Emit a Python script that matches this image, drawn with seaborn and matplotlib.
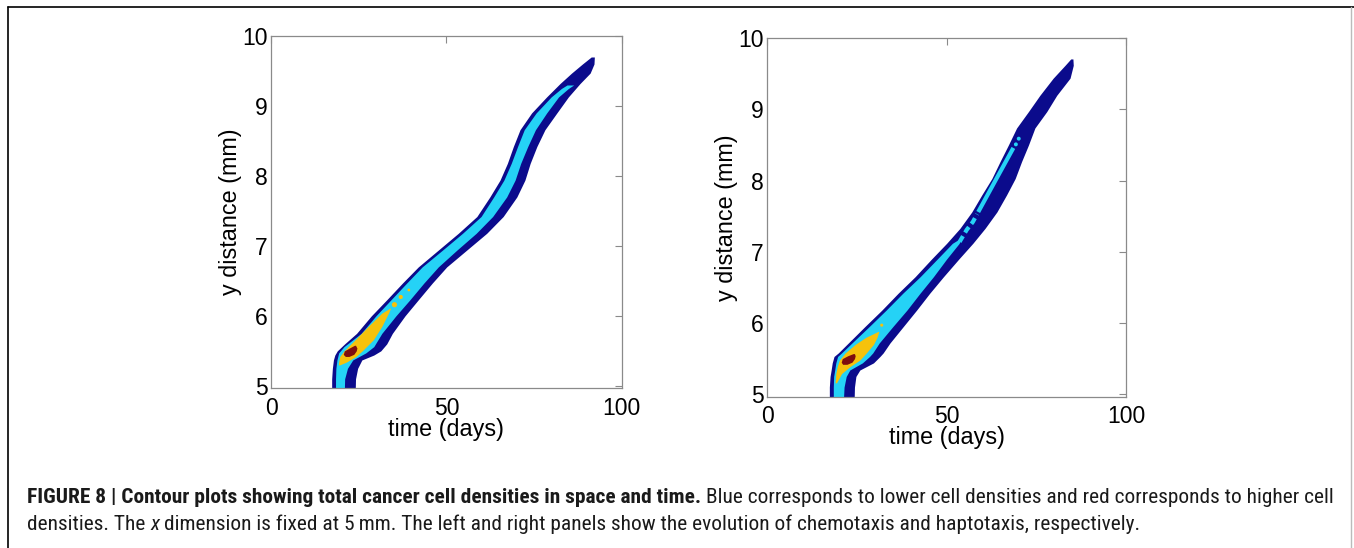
import os
import numpy as np
import matplotlib
matplotlib.use("Agg")
import matplotlib.pyplot as plt
import seaborn as sns
from matplotlib import font_manager
from matplotlib.font_manager import FontProperties
from matplotlib.lines import Line2D

# ---------------- data ----------------
# Left panel (chemotaxis) – outer, dark-blue contour (y in mm, edges in days)
L_dark_y     = [4.90, 5.10, 5.25, 5.37, 5.44, 5.50, 5.60, 5.75, 6.00, 6.23, 6.47, 6.70, 6.94, 7.18, 7.42, 7.70, 7.94, 8.18, 8.42, 8.66, 8.90, 9.13, 9.32, 9.47, 9.60, 9.70]
L_dark_left  = [17.3, 17.3, 17.5, 17.8, 18.2, 18.9, 21.0, 24.4, 28.6, 33.0, 37.5, 42.0, 47.7, 53.4, 58.7, 62.4, 65.3, 67.4, 69.1, 71.0, 74.3, 78.6, 82.4, 85.7, 88.8, 91.3]
L_dark_right = [24.0, 24.1, 24.7, 25.9, 29.3, 31.3, 33.0, 34.6, 38.2, 42.0, 46.0, 50.1, 55.8, 61.5, 66.2, 70.1, 72.4, 73.9, 75.8, 78.1, 81.5, 84.8, 88.1, 91.0, 92.1, 92.2]
# Left panel – cyan contour
L_cyan_y     = [4.90, 5.10, 5.25, 5.37, 5.47, 5.56, 5.75, 6.00, 6.23, 6.47, 6.70, 6.94, 7.18, 7.42, 7.70, 7.94, 8.18, 8.42, 8.66, 8.90, 9.13, 9.25, 9.30]
L_cyan_left  = [18.4, 18.4, 18.5, 18.8, 19.3, 20.8, 25.7, 29.9, 34.2, 38.7, 43.1, 48.9, 54.6, 59.9, 63.5, 66.4, 68.5, 70.3, 72.2, 75.6, 79.9, 82.8, 84.4]
L_cyan_right = [20.9, 21.0, 21.8, 23.3, 27.0, 29.3, 31.6, 35.6, 39.6, 43.6, 47.7, 53.0, 58.5, 63.2, 67.2, 69.6, 71.2, 73.2, 75.4, 78.6, 82.0, 84.8, 86.3]
# Left panel – yellow contour
L_yel_y      = [5.30, 5.34, 5.42, 5.50, 5.66, 5.85, 6.04, 6.11]
L_yel_left   = [19.2, 19.3, 19.6, 20.8, 24.0, 27.7, 31.6, 33.9]
L_yel_right  = [19.6, 21.5, 24.2, 26.0, 29.2, 31.6, 33.5, 34.1]
L_yel_dot_t  = [35.2, 37.0, 39.3]
L_yel_dot_y  = [6.16, 6.27, 6.37]
L_yel_dot_s  = [14, 9, 4]
# Left panel – dark-red contour
L_red_y      = [5.42, 5.45, 5.50, 5.54, 5.58]
L_red_left   = [21.2, 20.6, 20.9, 22.3, 23.8]
L_red_right  = [22.2, 23.6, 24.3, 24.5, 24.1]

# Right panel (haptotaxis) – outer, dark-blue contour
R_dark_y     = [4.90, 5.10, 5.25, 5.34, 5.44, 5.53, 5.58, 5.72, 5.95, 6.18, 6.42, 6.65, 6.90, 7.12, 7.33, 7.56, 7.80, 8.03, 8.27, 8.50, 8.74, 8.97, 9.20, 9.44, 9.62, 9.71]
R_dark_left  = [17.3, 17.3, 17.5, 17.8, 18.1, 18.6, 19.8, 22.6, 27.2, 31.9, 36.5, 41.2, 45.8, 50.0, 53.7, 57.0, 59.8, 62.6, 64.9, 67.2, 69.5, 72.8, 76.0, 79.7, 83.0, 84.6]
R_dark_right = [24.2, 24.3, 24.7, 25.8, 29.6, 31.4, 32.3, 34.2, 37.9, 41.6, 45.3, 49.1, 53.4, 57.3, 60.7, 64.0, 66.7, 69.1, 70.9, 72.8, 74.6, 77.9, 80.7, 84.4, 85.3, 85.2]
# Right panel – cyan contour (main part, dashed pieces, thin strip, dots)
R_cyan_y     = [4.90, 5.10, 5.25, 5.34, 5.44, 5.53, 5.58, 5.72, 5.95, 6.18, 6.42, 6.65, 6.90, 7.12, 7.17]
R_cyan_left  = [18.4, 18.4, 18.5, 18.8, 19.1, 19.6, 20.7, 23.6, 28.4, 33.1, 37.8, 42.6, 47.4, 51.6, 53.2]
R_cyan_right = [21.2, 21.4, 22.0, 23.0, 26.5, 28.5, 29.4, 31.2, 35.0, 38.9, 42.6, 46.3, 50.0, 53.5, 53.8]
R_cyan_dash_t  = [53.6, 55.6, 57.3, 58.5]
R_cyan_dash_y  = [7.14, 7.31, 7.42, 7.53]
R_cyan_strip_t = [58.8, 63.9, 68.6]
R_cyan_strip_y = [7.56, 8.03, 8.46]
R_cyan_dot_t   = [69.3, 70.1]
R_cyan_dot_y   = [8.51, 8.59]
# Right panel – yellow contour
R_yel_y      = [5.16, 5.29, 5.39, 5.48, 5.58, 5.70, 5.80, 5.88]
R_yel_left   = [18.9, 19.1, 19.5, 20.1, 21.7, 24.5, 27.5, 30.8]
R_yel_right  = [19.3, 20.7, 23.1, 25.8, 27.6, 29.6, 30.6, 31.1]
R_yel_dot_t  = [31.9]
R_yel_dot_y  = [5.97]
# Right panel – dark-red contour
R_red_y      = [5.42, 5.45, 5.50, 5.54, 5.57]
R_red_left   = [21.0, 20.6, 20.9, 22.4, 23.9]
R_red_right  = [22.2, 23.6, 24.3, 24.5, 24.3]

x_ticks = [0, 50, 100]
y_ticks = [5, 6, 7, 8, 9, 10]
x_label = "time (days)"
y_label = "y distance (mm)"

caption_bold = "FIGURE 8 | Contour plots showing total cancer cell densities in space and time."
caption_rest1 = "Blue corresponds to lower cell densities and red corresponds to higher cell"
caption_l2a = "densities. The"
caption_l2x = "x"
caption_l2b = "dimension is fixed at 5\u2009mm. The left and right panels show the evolution of chemotaxis and haptotaxis, respectively."

NAVY = "#0B0B8C"
CYAN = "#25D2F6"
YELLOW = "#F6C20C"
DRED = "#7E0E0E"
SPINE = "#8a8a8a"

# ---------------- figure ----------------
sns.set_theme(style="white")
plt.rcParams['font.family'] = ['Liberation Sans', 'DejaVu Sans']
plt.rcParams['axes.edgecolor'] = SPINE

W, H = 1354, 548
fig = plt.figure(figsize=(W / 100, H / 100), dpi=100)
fig.patch.set_facecolor("white")


def px_axes(x0, x1, y0, y1):
    return fig.add_axes([x0 / W, 1 - y1 / H, (x1 - x0) / W, (y1 - y0) / H])


def style_axes(ax, ybottom):
    ax.set_xlim(0, 100)
    ax.set_ylim(ybottom, 10)
    ax.set_xticks(x_ticks)
    ax.set_yticks(y_ticks)
    ax.tick_params(direction="in", length=5, width=0.8, color=SPINE,
                   top=True, right=True, labelsize=16.5, labelcolor="black")
    ax.tick_params(axis="x", pad=6)
    ax.tick_params(axis="y", pad=2.5)
    for s in ax.spines.values():
        s.set_color(SPINE)
        s.set_linewidth(0.9)
    ax.set_xlabel(x_label, fontsize=16.8, labelpad=-1.5, color="black")
    ax.set_ylabel(y_label, fontsize=16.8, labelpad=0, color="black")
    ax.set_facecolor("white")


# Left panel
axL = px_axes(271, 621.7, 36, 388.3)
axL.fill_betweenx(L_dark_y, L_dark_left, L_dark_right, color=NAVY, lw=0)
axL.fill_betweenx(L_cyan_y, L_cyan_left, L_cyan_right, color=CYAN, lw=0)
axL.fill_betweenx(L_yel_y, L_yel_left, L_yel_right, color=YELLOW, lw=0)
sns.scatterplot(x=L_yel_dot_t, y=L_yel_dot_y, s=L_yel_dot_s, color=YELLOW,
                edgecolor="none", ax=axL, legend=False)
axL.fill_betweenx(L_red_y, L_red_left, L_red_right, color=DRED, lw=0)
style_axes(axL, 4.965)

# Right panel
axR = px_axes(767.3, 1126, 38.3, 396.7)
axR.fill_betweenx(R_dark_y, R_dark_left, R_dark_right, color=NAVY, lw=0)
axR.fill_betweenx(R_cyan_y, R_cyan_left, R_cyan_right, color=CYAN, lw=0)
sns.lineplot(x=R_cyan_dash_t, y=R_cyan_dash_y, color=CYAN, lw=3.0,
             linestyle=(0, (1.6, 1.0)), ax=axR, sort=False, legend=False)
sns.lineplot(x=R_cyan_strip_t, y=R_cyan_strip_y, color=CYAN, lw=3.0,
             solid_capstyle="butt", ax=axR, sort=False, legend=False)
sns.scatterplot(x=R_cyan_dot_t, y=R_cyan_dot_y, s=8, color=CYAN,
                edgecolor="none", ax=axR, legend=False)
axR.fill_betweenx(R_yel_y, R_yel_left, R_yel_right, color=YELLOW, lw=0)
sns.scatterplot(x=R_yel_dot_t, y=R_yel_dot_y, s=5, color=YELLOW,
                edgecolor="none", ax=axR, legend=False)
axR.fill_betweenx(R_red_y, R_red_left, R_red_right, color=DRED, lw=0)
style_axes(axR, 4.965)

# frame lines of the figure page
fig.add_artist(Line2D([8 / W, 1], [1 - 7 / H, 1 - 7 / H], color="black", lw=1.2))
fig.add_artist(Line2D([8 / W, 8 / W], [1 - 7 / H, 0], color="black", lw=1.2))
fig.add_artist(Line2D([1351 / W, 1351 / W], [1 - 7 / H, 0], color="#bbbbbb", lw=1.0))


# ---------------- caption (condensed face if one is installed) ----------------
def _w(f):
    w = f.weight
    if isinstance(w, str):
        w = font_manager.weight_dict.get(w, 400)
    return w


def find_condensed():
    groups = {}
    for f in font_manager.fontManager.ttflist:
        fn = os.path.basename(f.fname).lower()
        nm = f.name.lower()
        st = str(f.stretch).lower()
        cond = ("narrow" in fn or "narrow" in nm or
                (("condensed" in fn or "condensed" in nm or st == "condensed")
                 and not any(k in fn or k in nm for k in ("semi", "extra", "ultra"))))
        if not cond:
            continue
        groups.setdefault(f.name, []).append(f)
    prefs = ["liberation sans narrow", "roboto condensed", "noto sans", "open sans",
             "dejavu sans", "lato", "inter"]
    order = sorted(groups, key=lambda n: min([i for i, p in enumerate(prefs) if p in n.lower()] + [99]))
    for name in order:
        fs = groups[name]
        reg = [f for f in fs if f.style == "normal" and 350 <= _w(f) <= 450]
        bold = [f for f in fs if f.style == "normal" and _w(f) >= 650]
        ital = [f for f in fs if f.style != "normal" and 350 <= _w(f) <= 450]
        if reg and bold:
            bold.sort(key=lambda f: abs(_w(f) - 700))
            return (FontProperties(fname=reg[0].fname),
                    FontProperties(fname=bold[0].fname),
                    FontProperties(fname=(ital or reg)[0].fname))
    return (FontProperties(family=["Liberation Sans"]),
            FontProperties(family=["Liberation Sans"], weight="bold"),
            FontProperties(family=["Liberation Sans"], style="italic"))


fp_reg, fp_bold, fp_ital = find_condensed()
renderer = fig.canvas.get_renderer()


def text_w(s, fp, size):
    p = fp.copy()
    p.set_size(size)
    t = fig.text(0, 0, s, fontproperties=p)
    w = t.get_window_extent(renderer).width
    t.remove()
    return w


base = 12.0
sp = text_w("a a", fp_reg, base) - text_w("aa", fp_reg, base)
line1_w = text_w(caption_bold, fp_bold, base) + sp + text_w(caption_rest1, fp_reg, base)
size = min(base * 1309.0 / line1_w, 17.0)
sp = text_w("a a", fp_reg, size) - text_w("aa", fp_reg, size)


def put_line(parts, x_px, base_px):
    x = x_px
    for s, fp in parts:
        p = fp.copy()
        p.set_size(size)
        t = fig.text(x / W, 1 - base_px / H, s, fontproperties=p,
                     ha="left", va="baseline", color="#1a1a1a")
        x += t.get_window_extent(renderer).width + sp


put_line([(caption_bold, fp_bold), (caption_rest1, fp_reg)], 27, 503)
put_line([(caption_l2a, fp_reg), (caption_l2x, fp_ital), (caption_l2b, fp_reg)], 27, 530)

fig.savefig("out.png", dpi=100, facecolor="white")
